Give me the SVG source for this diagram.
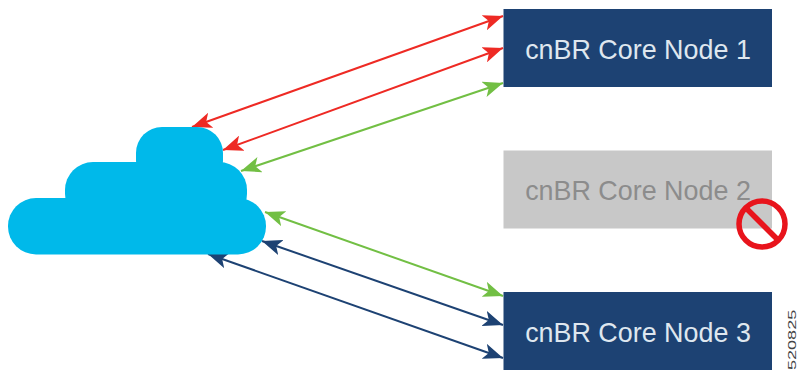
<svg xmlns="http://www.w3.org/2000/svg" width="798" height="371" viewBox="0 0 798 371">
<style>
.box{fill:#1d4273}
.off{fill:#c8c8c8}
.lbl{font-family:"Liberation Sans",Arial,sans-serif;font-size:26.9px;text-anchor:middle;fill:#dfe7ef}
.offl{fill:#8c8c8c}
.cl{fill:#00b9ea}
.c{fill:none;stroke-width:2}
.r{stroke:#ee2a24;marker-start:url(#mr);marker-end:url(#mr)}
.g{stroke:#72bf44;marker-start:url(#mg);marker-end:url(#mg)}
.n{stroke:#1d4273;marker-start:url(#mn);marker-end:url(#mn)}
</style>
<defs>
<marker id="mr" viewBox="0 0 20 16" refX="20" refY="8" markerUnits="userSpaceOnUse" markerWidth="20" markerHeight="16" orient="auto-start-reverse"><path d="M0 0L20 8L0 16L5 8Z" fill="#ee2a24"/></marker>
<marker id="mg" viewBox="0 0 20 16" refX="20" refY="8" markerUnits="userSpaceOnUse" markerWidth="20" markerHeight="16" orient="auto-start-reverse"><path d="M0 0L20 8L0 16L5 8Z" fill="#72bf44"/></marker>
<marker id="mn" viewBox="0 0 20 16" refX="20" refY="8" markerUnits="userSpaceOnUse" markerWidth="20" markerHeight="16" orient="auto-start-reverse"><path d="M0 0L20 8L0 16L5 8Z" fill="#1d4273"/></marker>
</defs>
<g id="connectors">
<line class="c r" x1="192" y1="127" x2="503" y2="16"/>
<line class="c r" x1="223" y1="150" x2="503" y2="48"/>
<line class="c g" x1="241" y1="171" x2="503" y2="83"/>
<line class="c g" x1="265" y1="212" x2="503" y2="296"/>
<line class="c n" x1="262" y1="241" x2="503" y2="325"/>
<line class="c n" x1="208" y1="254" x2="503" y2="358"/>
</g>
<g id="cloud">
<rect class="cl" x="136" y="127" width="87" height="60" rx="26"/>
<rect class="cl" x="65" y="162" width="182" height="60" rx="28"/>
<rect class="cl" x="8" y="198" width="258" height="56.5" rx="28"/>
</g>
<g id="node1"><rect class="box" x="503.5" y="9" width="268.5" height="78"/><text class="lbl" x="638" y="59">cnBR Core Node 1</text></g>
<g id="node2"><rect class="off" x="503.5" y="150.5" width="268.5" height="78"/><text class="lbl offl" x="638" y="200">cnBR Core Node 2</text>
<circle cx="762" cy="224" r="23" fill="none" stroke="#e8141c" stroke-width="5.5"/><line x1="746" y1="208" x2="778" y2="240" stroke="#e8141c" stroke-width="5.5"/></g>
<g id="node3"><rect class="box" x="503.5" y="292" width="268.5" height="78"/><text class="lbl" x="638" y="342">cnBR Core Node 3</text></g>
<text transform="translate(795.5 370) rotate(-90) scale(1.72 1)" font-family="'Liberation Sans',Arial,sans-serif" font-size="10.5" fill="#444">520825</text>
</svg>
